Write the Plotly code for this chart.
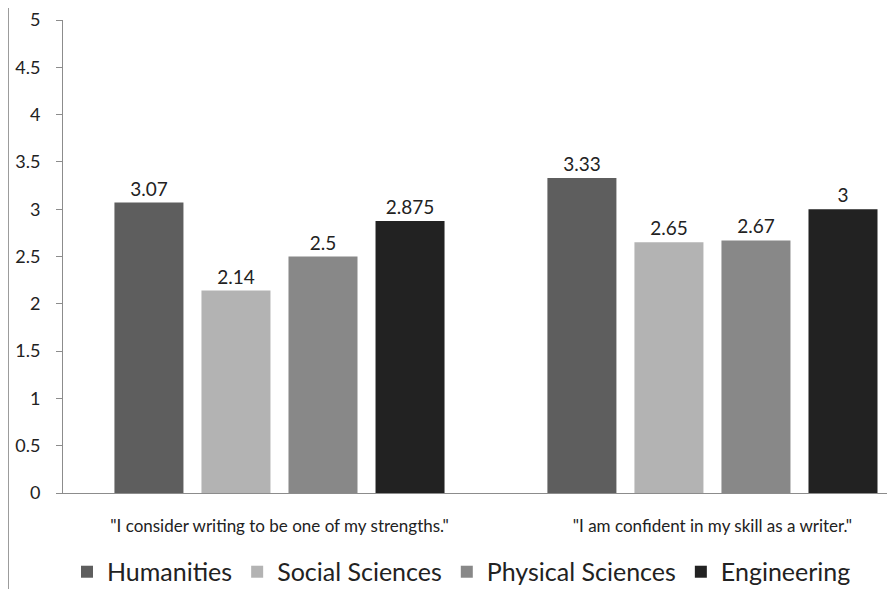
import plotly.graph_objects as go

categories = ['"I consider writing to be one of my strengths."', '"I am confident in my skill as a writer."']
series_names = ["Humanities", "Social Sciences", "Physical Sciences", "Engineering"]
humanities = [3.07, 3.33]
social = [2.14, 2.65]
physical = [2.5, 2.67]
engineering = [2.875, 3]
labels_h = ["3.07", "3.33"]
labels_s = ["2.14", "2.65"]
labels_p = ["2.5", "2.67"]
labels_e = ["2.875", "3"]
colors = ["#5e5e5e", "#b3b3b3", "#888888", "#222222"]

FONT = "Lato"
fig = go.Figure()
for name, vals, labs, col in zip(series_names, [humanities, social, physical, engineering],
                                 [labels_h, labels_s, labels_p, labels_e], colors):
    fig.add_trace(go.Bar(
        x=categories, y=vals, name=name, text=labs, textposition="outside",
        textfont=dict(size=19, color="#222222", family=FONT),
        marker=dict(color=col, line=dict(width=0)), cliponaxis=False,
    ))

# page body has an 8px margin, so the figure is 8px smaller than the window
fig.update_layout(
    width=887, height=581,
    margin=dict(l=55, r=2, t=12, b=96),
    paper_bgcolor="white", plot_bgcolor="white",
    barmode="group", bargap=0.196, bargroupgap=0.207,
    font=dict(family=FONT, color="#222222"),
    showlegend=True,
    legend=dict(orientation="h", x=0.0665, xanchor="left", xref="container",
                y=0.0293, yanchor="middle", yref="container",
                font=dict(size=25, family=FONT, color="#222222"),
                itemwidth=30, bgcolor="rgba(0,0,0,0)"),
    xaxis=dict(range=[-0.5, 1.417], showline=True, linecolor="#8c8c8c", linewidth=1,
               ticks="", tickfont=dict(size=17, family=FONT, color="#222222"),
               ticklabelstandoff=18, showgrid=False, zeroline=False, automargin=False),
    yaxis=dict(range=[0, 5], dtick=0.5, showline=True, linecolor="#8c8c8c", linewidth=1,
               ticks="outside", ticklen=6, tickcolor="#8c8c8c", showgrid=False, zeroline=False,
               tickfont=dict(size=18, family=FONT, color="#222222"), ticklabelstandoff=12,
               ticklabeloverflow="allow", automargin=False),
    shapes=[dict(type="line", xref="paper", yref="paper", x0=-0.0657, x1=-0.0657,
                 y0=1.0254, y1=-0.203, line=dict(color="#9a9a9a", width=1))],
)

fig.write_html("out.html")
